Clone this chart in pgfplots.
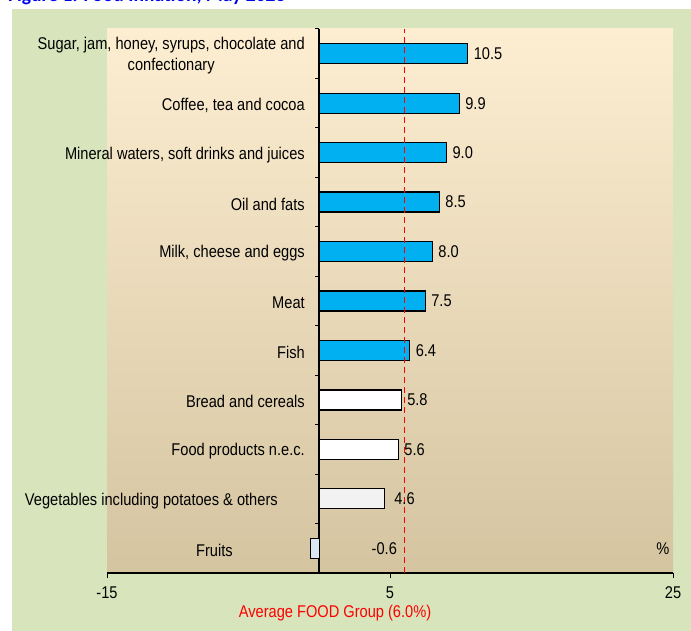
\documentclass[border=0pt]{standalone}
\usepackage{pgfplots}
\pgfplotsset{compat=1.18}
\usepackage{fontspec}
\setmainfont{Liberation Sans}[FakeStretch=0.86]
\newfontfamily\titlefont{Carlito}
\definecolor{outerg}{RGB}{216,228,188}
\definecolor{topc}{RGB}{253,238,210}
\definecolor{botc}{RGB}{212,196,160}
\definecolor{barblue}{RGB}{0,176,240}
\definecolor{bargray}{RGB}{242,242,242}
\definecolor{barfruit}{RGB}{220,230,242}
\definecolor{titleblue}{RGB}{0,0,240}
\newcommand\lbl{\fontsize{17bp}{20.5bp}\selectfont}
\begin{document}
\begin{tikzpicture}
\useasboundingbox (0bp,0bp) rectangle (691bp,631bp);
\fill[outerg] (12bp,0bp) rectangle (691bp,622bp);
\node[anchor=base west, inner sep=0pt, text=titleblue, font=\titlefont\bfseries\fontsize{19.5bp}{22bp}\selectfont] at (8bp,629bp) {Figure 1: Food Inflation, May 2023};
\begin{axis}[
  at={(107bp,58bp)}, anchor=south west,
  width=566bp, height=544bp, scale only axis,
  axis background/.style={top color=topc, bottom color=botc},
  xmin=-15, xmax=25, ymin=-0.5, ymax=10.5,
  axis x line=bottom, axis y line=center,
  axis line style={-, line width=1.6bp, black},
  xtick={-15,5,25}, xticklabels={-15,5,25},
  ytick={0,...,10},
  yticklabels={Fruits\hspace*{72bp},
    Vegetables including potatoes \& others\hspace*{27bp},
    Food products n.e.c.,
    Bread and cereals,
    Fish,
    Meat,
    {Milk, cheese and eggs},
    Oil and fats,
    {Mineral waters, soft drinks and juices},
    {Coffee, tea and cocoa},
    {Sugar, jam, honey, syrups, chocolate and\\confectionary}},
  minor ytick={-0.5,0.5,...,10.5},
  tick align=outside,
  major tick length=5bp, minor tick length=4bp,
  major y tick style={draw=none},
  every tick/.style={black, line width=1bp},
  tick label style={font=\lbl},
  yticklabel style={align=center, anchor=east, xshift=-6bp, yshift=-2bp},
  xticklabel style={yshift=-5bp},
  xbar, bar width=20bp, bar shift=0pt,
  point meta=explicit symbolic,
  nodes near coords,
  nodes near coords style={font=\lbl, anchor=west, text=black, xshift=2bp},
  clip=false,
]
\addplot[fill=barblue, draw=black, line width=1.3bp] coordinates {
  (10.5,10) [10.5]
  (9.9,9) [9.9]
  (9.0,8) [9.0]
  (8.5,7) [8.5]
  (8.0,6) [8.0]
  (7.5,5) [7.5]
  (6.4,4) [6.4]
};
\addplot[fill=white, draw=black, line width=1.3bp] coordinates {
  (5.8,3) [5.8]
  (5.6,2) [5.6]
};
\addplot[fill=bargray, draw=black, line width=1.3bp, nodes near coords style={xshift=4bp}] coordinates {
  (4.6,1) [4.6]
};
\addplot[fill=barfruit, draw=black, line width=1.3bp, nodes near coords style={xshift=55bp}] coordinates {
  (-0.6,0) [-0.6]
};
\draw[red, dashed, line width=1.2bp, dash pattern=on 6bp off 4bp] (axis cs:6,-0.5) -- (axis cs:6,10.5);
\node[font=\lbl, anchor=east] at (axis cs:25,0) {\%};
\end{axis}
\node[font=\lbl, text=red] at (335bp,18bp) {Average FOOD Group (6.0\%)};
\end{tikzpicture}
\end{document}
